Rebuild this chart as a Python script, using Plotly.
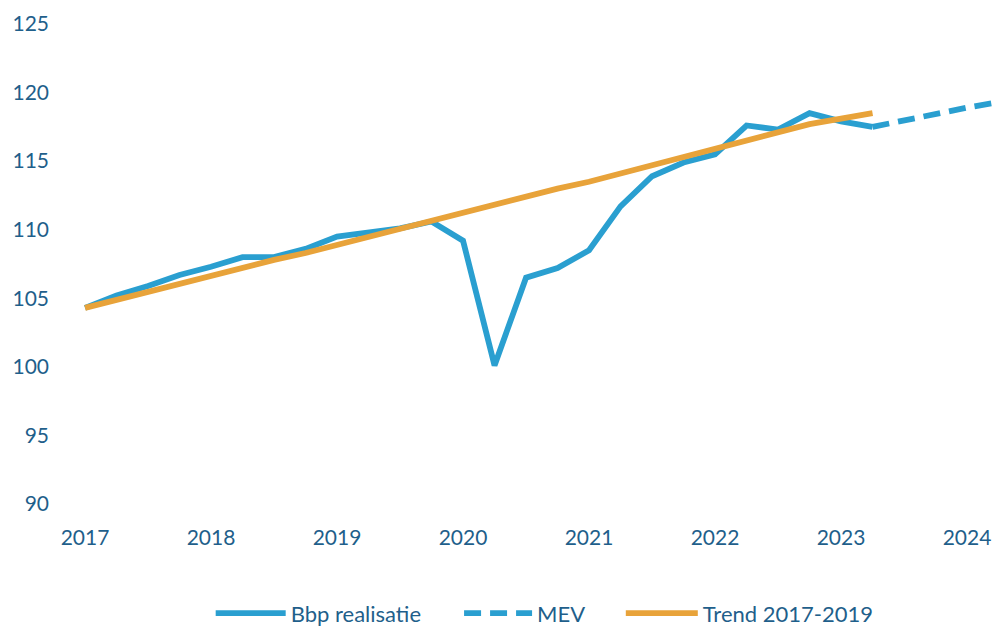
import plotly.graph_objects as go

# Quarters (realisatie + trend period)
quarters = ["2017Q1", "2017Q2", "2017Q3", "2017Q4",
            "2018Q1", "2018Q2", "2018Q3", "2018Q4",
            "2019Q1", "2019Q2", "2019Q3", "2019Q4",
            "2020Q1", "2020Q2", "2020Q3", "2020Q4",
            "2021Q1", "2021Q2", "2021Q3", "2021Q4",
            "2022Q1", "2022Q2", "2022Q3", "2022Q4",
            "2023Q1", "2023Q2"]

bbp_realisatie = [104.3, 105.2, 105.9, 106.7,
                  107.3, 108.0, 108.0, 108.6,
                  109.5, 109.8, 110.1, 110.6,
                  109.2, 100.1, 106.5, 107.2,
                  108.5, 111.7, 113.9, 114.9,
                  115.5, 117.6, 117.3, 118.5,
                  117.9, 117.5]

trend_2017_2019 = [104.3, 104.9, 105.5, 106.0,
                   106.6, 107.2, 107.8, 108.3,
                   108.9, 109.5, 110.1, 110.7,
                   111.2, 111.8, 112.4, 113.0,
                   113.5, 114.1, 114.7, 115.3,
                   115.9, 116.5, 117.1, 117.7,
                   118.1, 118.5]

mev_quarters = ["2023Q2", "2023Q3", "2023Q4", "2024Q1", "2024Q2"]
mev_values = [117.5, 118.0, 118.4, 118.9, 119.3]

year_ticks = [2017, 2018, 2019, 2020, 2021, 2022, 2023, 2024]
y_ticks = [90, 95, 100, 105, 110, 115, 120, 125]


def qpos(q):
    year, quarter = q.split("Q")
    return int(year) + (int(quarter) - 1) / 4.0


x_real = [qpos(q) for q in quarters]
x_mev = [qpos(q) for q in mev_quarters]

BLUE = "#2a9fd0"
ORANGE = "#e8a33a"
TEXT = "#1f5f8b"
FONT = "Lato, 'Open Sans', sans-serif"
FS = 21
LFS = 22

fig = go.Figure()
fig.add_trace(go.Scatter(x=x_real, y=bbp_realisatie, mode="lines",
                         name="Bbp realisatie", legend="legend",
                         line=dict(color=BLUE, width=5.8)))
fig.add_trace(go.Scatter(x=x_mev, y=mev_values, mode="lines",
                         name="MEV", legend="legend2",
                         line=dict(color=BLUE, width=5.8, dash="17px,9px")))
fig.add_trace(go.Scatter(x=x_real, y=trend_2017_2019, mode="lines",
                         name="Trend 2017-2019", legend="legend3",
                         line=dict(color=ORANGE, width=5.8)))


def leg(x, iw):
    return dict(orientation="h", x=x, xanchor="left",
                y=-0.183, yanchor="middle", bgcolor="rgba(0,0,0,0)",
                font=dict(family=FONT, size=LFS, color=TEXT),
                itemwidth=iw)


fig.update_layout(
    width=993, height=626,
    margin=dict(l=50, r=0, t=10, b=106, autoexpand=False),
    paper_bgcolor="white", plot_bgcolor="white",
    font=dict(family=FONT, size=FS, color=TEXT),
    showlegend=True,
    legend=leg(0.1704, 70),
    legend2=leg(0.4338, 68),
    legend3=leg(0.6053, 72),
    xaxis=dict(range=[2016.722, 2024.206], tickvals=year_ticks,
               ticktext=[str(v) for v in year_ticks],
               showgrid=False, zeroline=False, showline=False,
               automargin=False, ticklabelstandoff=3,
               ticks="", tickfont=dict(size=FS, color=TEXT)),
    yaxis=dict(range=[88.833, 126.021], tickvals=y_ticks,
               showgrid=False, zeroline=False, showline=False,
               automargin=False,
               ticks="", tickfont=dict(size=FS, color=TEXT)),
)

fig.write_html(
    "out.html",
    config={"displayModeBar": False},
    post_script="document.body.style.margin='0';document.body.style.overflow='hidden';",
)
